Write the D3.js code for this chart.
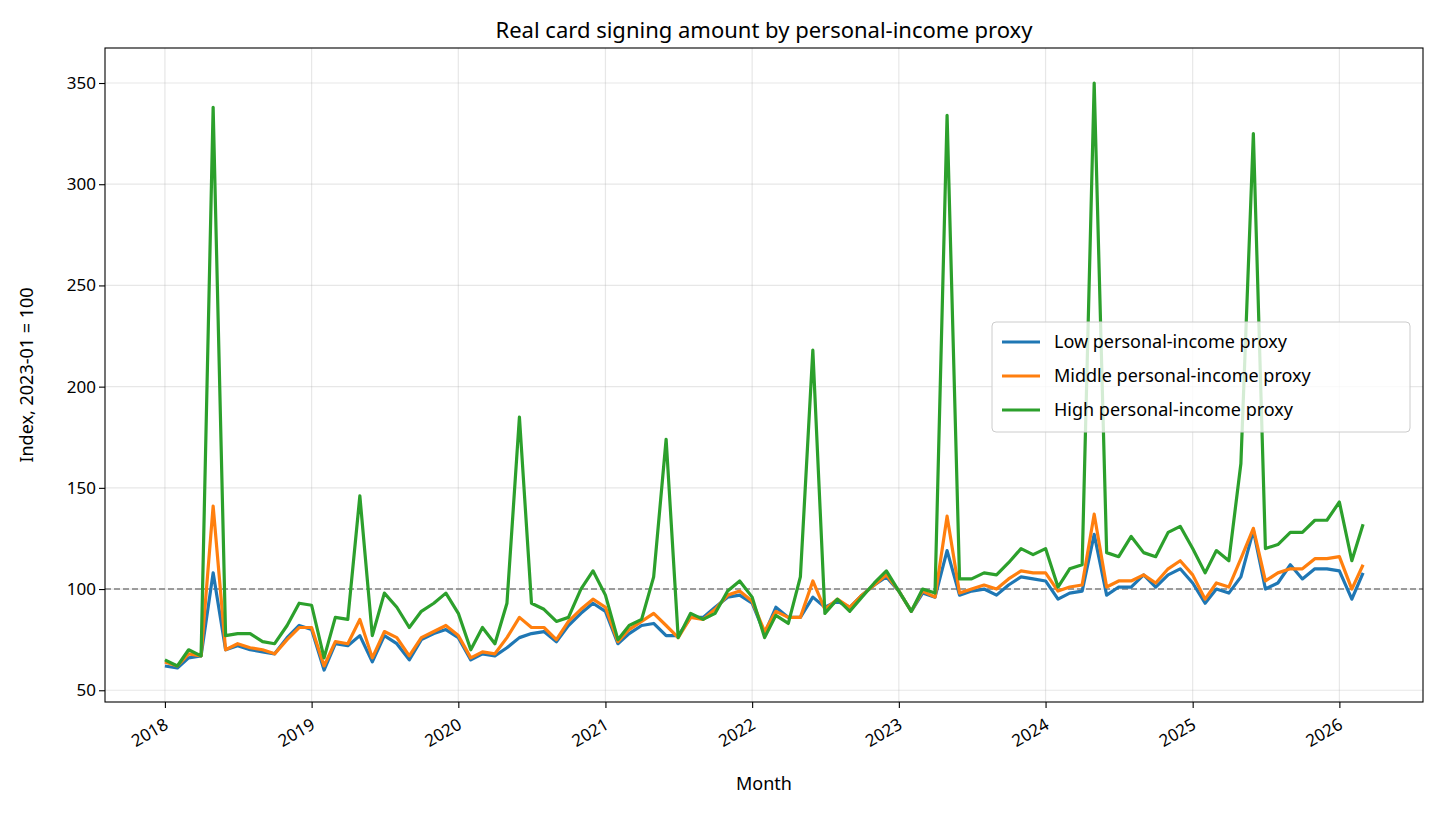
<!DOCTYPE html>
<html>
<head>
<meta charset="utf-8">
<script src="https://cdn.jsdelivr.net/npm/d3@7"></script>
<style>
  body { margin: 0; background: #fff; }
  text { font-family: "Noto Sans", "DejaVu Sans", sans-serif; fill: #000; }
</style>
</head>
<body>
<svg id="chart" width="1439" height="813"></svg>
<script>
  var lowSeries = [
    62, 61, 66, 67, 108, 70, 72, 70, 69, 68, 76, 82,
    80, 60, 73, 72, 77, 64, 77, 73, 65, 75, 78, 80,
    76, 65, 68, 67, 71, 76, 78, 79, 74, 82, 88, 93,
    89, 73, 78, 82, 83, 77, 77, 86, 86, 91, 96, 97,
    93, 78, 91, 86, 86, 96, 91, 94, 91, 97, 102, 106,
    99, 89, 98, 96, 119, 97, 99, 100, 97, 102, 106, 105,
    104, 95, 98, 99, 127, 97, 101, 101, 107, 101, 107, 110,
    103, 93, 100, 98, 106, 129, 100, 103, 112, 105, 110, 110,
    109, 95, 108
  ];
  var middleSeries = [
    64, 62, 68, 67, 141, 70, 73, 71, 70, 68, 75, 81,
    81, 62, 74, 73, 85, 66, 79, 76, 67, 76, 79, 82,
    77, 66, 69, 68, 76, 86, 81, 81, 75, 84, 90, 95,
    91, 74, 80, 84, 88, 82, 76, 86, 85, 90, 97, 99,
    94, 79, 89, 86, 86, 104, 90, 95, 91, 97, 102, 107,
    99, 89, 99, 96, 136, 98, 100, 102, 100, 105, 109, 108,
    108, 99, 101, 102, 137, 101, 104, 104, 107, 103, 110, 114,
    107, 95, 103, 101, 115, 130, 104, 108, 110, 110, 115, 115,
    116, 100, 112
  ];
  var highSeries = [
    65, 62, 70, 67, 338, 77, 78, 78, 74, 73, 82, 93,
    92, 66, 86, 85, 146, 77, 98, 91, 81, 89, 93, 98,
    88, 70, 81, 73, 93, 185, 93, 90, 84, 86, 100, 109,
    97, 75, 82, 85, 106, 174, 76, 88, 85, 88, 99, 104,
    96, 76, 87, 83, 106, 218, 88, 95, 89, 96, 103, 109,
    99, 89, 100, 98, 334, 105, 105, 108, 107, 113, 120, 117,
    120, 101, 110, 112, 350, 118, 116, 126, 118, 116, 128, 131,
    120, 108, 119, 114, 162, 325, 120, 122, 128, 128, 134, 134,
    143, 114, 132
  ];
  var seriesNames = ["Low personal-income proxy", "Middle personal-income proxy", "High personal-income proxy"];
  var seriesColors = ["#1f77b4", "#ff7f0e", "#2ca02c"];
  var yTicks = [50, 100, 150, 200, 250, 300, 350];
  var xTickYears = [2018, 2019, 2020, 2021, 2022, 2023, 2024, 2025, 2026];

  (function(){
    var months = lowSeries.map(function(d, i){ return new Date(2018, i, 1); });
    var allSeries = [lowSeries, middleSeries, highSeries];

    var svg = d3.select("#chart");
    var pLeft = 105, pRight = 1423, pTop = 48, pBottom = 702;

    var span = months[months.length - 1] - months[0];
    var x = d3.scaleTime()
      .domain([new Date(+months[0] - span * 0.05), new Date(+months[months.length - 1] + span * 0.05)])
      .range([pLeft, pRight]);
    var y = d3.scaleLinear().domain([44.2, 367.3]).range([pBottom, pTop]);

    // grid
    var g = svg.append("g");
    g.selectAll(".gx").data(xTickYears).enter().append("line")
      .attr("x1", function(d){ return x(new Date(d, 0, 1)); })
      .attr("x2", function(d){ return x(new Date(d, 0, 1)); })
      .attr("y1", pTop).attr("y2", pBottom)
      .attr("stroke", "#b0b0b0").attr("stroke-opacity", 0.3).attr("stroke-width", 1.2);
    g.selectAll(".gy").data(yTicks).enter().append("line")
      .attr("x1", pLeft).attr("x2", pRight)
      .attr("y1", function(d){ return y(d); }).attr("y2", function(d){ return y(d); })
      .attr("stroke", "#b0b0b0").attr("stroke-opacity", 0.3).attr("stroke-width", 1.2);

    // reference line
    svg.append("line")
      .attr("x1", pLeft).attr("x2", pRight).attr("y1", y(100)).attr("y2", y(100))
      .attr("stroke", "#808080").attr("stroke-width", 1.5).attr("stroke-dasharray", "6,3");

    var line = d3.line()
      .x(function(d, i){ return x(months[i]); })
      .y(function(d){ return y(d); });

    allSeries.forEach(function(s, k){
      svg.append("path").datum(s)
        .attr("d", line)
        .attr("fill", "none")
        .attr("stroke", seriesColors[k])
        .attr("stroke-width", 3.2)
        .attr("stroke-linejoin", "round");
    });

    // axes
    var xAxis = svg.append("g").attr("transform", "translate(0," + pBottom + ")")
      .call(d3.axisBottom(x).tickValues(xTickYears.map(function(d){ return new Date(d, 0, 1); }))
        .tickFormat(d3.timeFormat("%Y")).tickSizeOuter(0).tickSize(6));
    xAxis.selectAll("text")
      .attr("font-size", 17)
      .attr("text-anchor", "end")
      .attr("dy", null).attr("y", 0)
      .attr("transform", "translate(4,26) rotate(-30)");

    var yAxis = svg.append("g").attr("transform", "translate(" + pLeft + ",0)")
      .call(d3.axisLeft(y).tickValues(yTicks).tickSizeOuter(0).tickSize(6));
    yAxis.selectAll("text").attr("font-size", 17);
    svg.selectAll(".domain").remove();
    svg.selectAll(".tick line").attr("stroke", "#000").attr("stroke-width", 1.1);

    svg.append("rect")
      .attr("x", pLeft).attr("y", pTop).attr("width", pRight - pLeft).attr("height", pBottom - pTop)
      .attr("fill", "none").attr("stroke", "#000").attr("stroke-width", 1.1);

    // labels
    svg.append("text").attr("x", (pLeft + pRight) / 2).attr("y", 38)
      .attr("text-anchor", "middle").attr("font-size", 22).text("Real card signing amount by personal-income proxy");
    svg.append("text").attr("x", (pLeft + pRight) / 2).attr("y", 790)
      .attr("text-anchor", "middle").attr("font-size", 18).text("Month");
    svg.append("text").attr("transform", "translate(33," + ((pTop + pBottom) / 2) + ") rotate(-90)")
      .attr("text-anchor", "middle").attr("font-size", 18).text("Index, 2023-01 = 100");

    // legend
    var lg = svg.append("g").attr("transform", "translate(992,322)");
    lg.append("rect").attr("width", 418).attr("height", 110).attr("rx", 4)
      .attr("fill", "#fff").attr("fill-opacity", 0.8).attr("stroke", "#ccc");
    seriesNames.forEach(function(n, k){
      var yy = 20 + k * 34;
      lg.append("line").attr("x1", 10).attr("x2", 48).attr("y1", yy).attr("y2", yy)
        .attr("stroke", seriesColors[k]).attr("stroke-width", 3.2);
      lg.append("text").attr("x", 62).attr("y", yy + 6).attr("font-size", 18).text(n);
    });
  })();
</script>
</body>
</html>
